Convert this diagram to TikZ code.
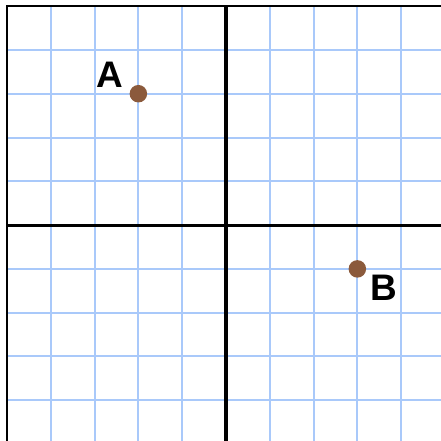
\documentclass[tikz,border=0pt]{standalone}
\usepackage{fontspec}
\setmainfont{Liberation Sans}
\definecolor{GridBlue}{HTML}{A9C9FA}
\definecolor{PointBrown}{HTML}{8B5A3C}
\usetikzlibrary{positioning}

\begin{document}
\begin{tikzpicture}[
    gridline/.style={GridBlue, line width=1.3pt},
    axis/.style={black, line width=2pt},
    frame/.style={black, line width=1.6pt},
    dot/.style={circle, fill=PointBrown, inner sep=0pt, minimum size=0.4cm},
    lbl/.style={font=\fontsize{24}{26}\selectfont\bfseries, inner sep=0pt}
  ]
    \useasboundingbox (-5.16,-4.91) rectangle (4.91,5.14);
    \clip (-5.16,-4.91) rectangle (4.91,5.14);

    % grid
    \foreach \k in {-4,...,4} {
      \draw[gridline] (\k,-5) -- (\k,5);
      \draw[gridline] (-5,\k) -- (5,\k);
    }
    \draw[frame] (-5,-5) rectangle (5,5);

    % axes
    \draw[axis] (-5,0) -- (5,0);
    \draw[axis] (0,-5) -- (0,5);

    % points
    \node[dot] (ptA) at (-2,3) {};
    \node[dot] (ptB) at (3,-1) {};
    \node[lbl] (labA) at (-2.66,3.43) {A};
    \node[lbl] (labB) at (3.6,-1.44) {B};
  \end{tikzpicture}
\end{document}
